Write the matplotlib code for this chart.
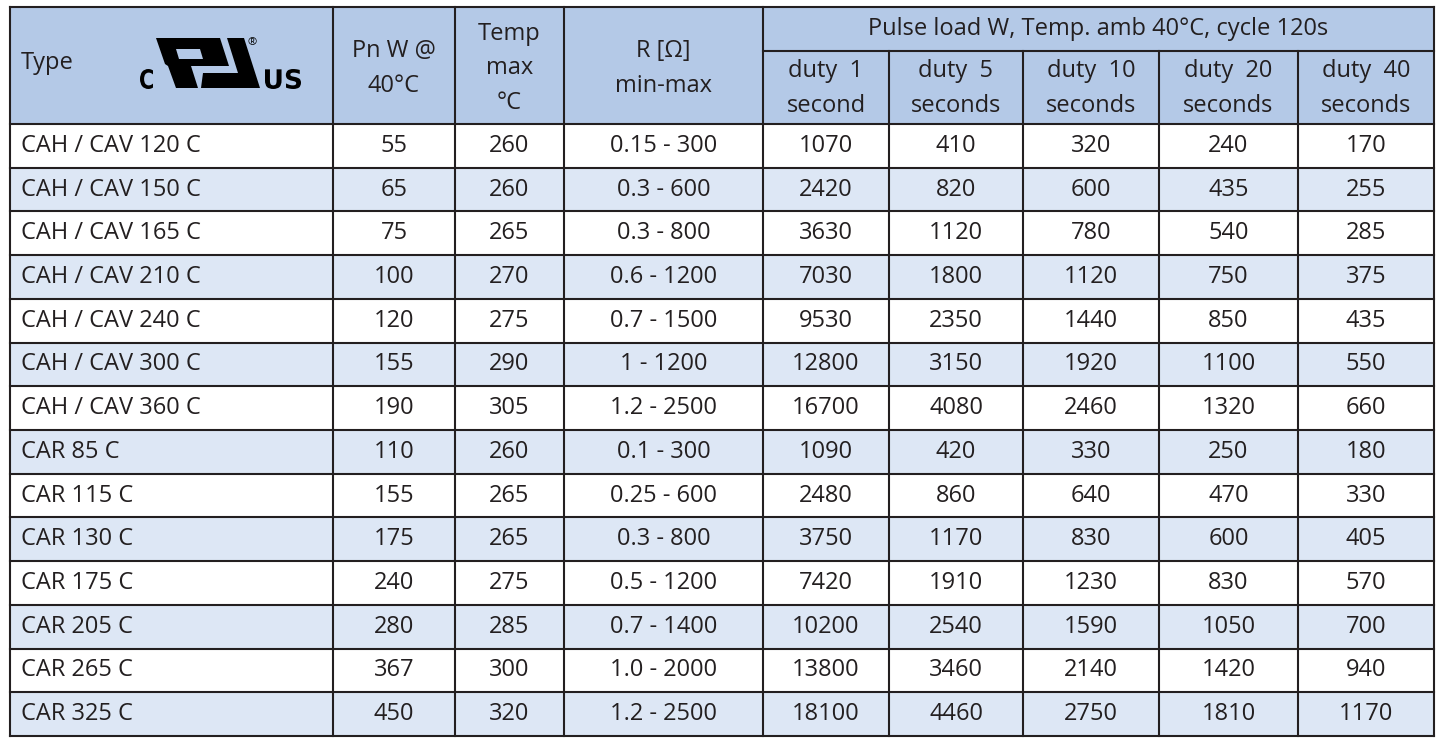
import matplotlib.pyplot as plt
from matplotlib.patches import Rectangle, Polygon, PathPatch
from matplotlib.textpath import TextPath
from matplotlib.font_manager import FontProperties
from matplotlib.transforms import Affine2D

plt.rcParams['font.family'] = ['Open Sans', 'DejaVu Sans']

# 表格数据
types = ['CAH / CAV 120 C', 'CAH / CAV 150 C', 'CAH / CAV 165 C', 'CAH / CAV 210 C',
         'CAH / CAV 240 C', 'CAH / CAV 300 C', 'CAH / CAV 360 C', 'CAR 85 C',
         'CAR 115 C', 'CAR 130 C', 'CAR 175 C', 'CAR 205 C', 'CAR 265 C', 'CAR 325 C']
pn_w = [55, 65, 75, 100, 120, 155, 190, 110, 155, 175, 240, 280, 367, 450]
temp_max = [260, 260, 265, 270, 275, 290, 305, 260, 265, 265, 275, 285, 300, 320]
r_range = ['0.15 - 300', '0.3 - 600', '0.3 - 800', '0.6 - 1200', '0.7 - 1500', '1 - 1200',
           '1.2 - 2500', '0.1 - 300', '0.25 - 600', '0.3 - 800', '0.5 - 1200', '0.7 - 1400',
           '1.0 - 2000', '1.2 - 2500']
duty_1 = [1070, 2420, 3630, 7030, 9530, 12800, 16700, 1090, 2480, 3750, 7420, 10200, 13800, 18100]
duty_5 = [410, 820, 1120, 1800, 2350, 3150, 4080, 420, 860, 1170, 1910, 2540, 3460, 4460]
duty_10 = [320, 600, 780, 1120, 1440, 1920, 2460, 330, 640, 830, 1230, 1590, 2140, 2750]
duty_20 = [240, 435, 540, 750, 850, 1100, 1320, 250, 470, 600, 830, 1050, 1420, 1810]
duty_40 = [170, 255, 285, 375, 435, 550, 660, 180, 330, 405, 570, 700, 940, 1170]

col_headers = ['Pn W @\n40°C', 'Temp\nmax\n°C', 'R [Ω]\nmin-max']
duty_headers = ['duty  1\nsecond', 'duty  5\nseconds', 'duty  10\nseconds',
                'duty  20\nseconds', 'duty  40\nseconds']
pulse_title = 'Pulse load W, Temp. amb 40°C, cycle 120s'

# 布局 (像素)
W, H = 1440, 738
col_x = [10, 333, 455, 564, 763, 889, 1023, 1159, 1298, 1434]
top, mid, head_bot, bottom = 7, 51, 124, 736
row_h = (bottom - head_bot) / len(types)

head_color = '#b4c9e7'
alt_color = '#dde7f5'
line_color = '#231f20'
text_color = '#231f20'
lw = 1.5
fs = 17
ls = 1.56

fig = plt.figure(figsize=(W / 100, H / 100), dpi=100)
ax = fig.add_axes([0, 0, 1, 1])
ax.set_xlim(0, W)
ax.set_ylim(H, 0)
ax.axis('off')

# 背景
ax.add_patch(Rectangle((col_x[0], top), col_x[-1] - col_x[0], head_bot - top,
                       facecolor=head_color, edgecolor='none'))
for i in range(len(types)):
    if i % 2 == 1:
        ax.add_patch(Rectangle((col_x[0], head_bot + i * row_h), col_x[-1] - col_x[0], row_h,
                               facecolor=alt_color, edgecolor='none'))

# 表头文字
ax.text(col_x[0] + 11, (top + head_bot) / 2 - 2.5, 'Type', ha='left', va='center',
        fontsize=fs, color=text_color)
for j, h in enumerate(col_headers):
    cx = (col_x[j + 1] + col_x[j + 2]) / 2
    ax.text(cx, (top + head_bot) / 2 + 3, h, ha='center', va='center', fontsize=fs,
            color=text_color, linespacing=ls)
ax.text((col_x[4] + col_x[-1]) / 2, (top + mid) / 2, pulse_title, ha='center', va='center',
        fontsize=fs, color=text_color)
for j, h in enumerate(duty_headers):
    cx = (col_x[j + 4] + col_x[j + 5]) / 2
    ax.text(cx, (mid + head_bot) / 2 + 1, h, ha='center', va='center', fontsize=fs,
            color=text_color, linespacing=ls)


# UL 标志: 窄粗体字母用 TextPath 压缩到指定框内
def squeezed_text(s, x0, x1, y_top, y_bot):
    tp = TextPath((0, 0), s, size=100, prop=FontProperties(family='DejaVu Sans', weight='bold'))
    ext = tp.get_extents()
    tr = (Affine2D().translate(-ext.x0, -ext.y0)
          .scale((x1 - x0) / ext.width, -(y_bot - y_top) / ext.height)
          .translate(x0, y_bot))
    ax.add_patch(PathPatch(tr.transform_path(tp), facecolor='black', edgecolor='none'))


ul_u = [(156, 38), (220, 38), (229, 66), (191, 66), (198, 88), (176, 88), (168, 66),
        (165, 64)]
ul_hole = [(176, 49), (200, 49), (203, 59), (179, 59)]
ul_l = [(227, 38), (244, 38), (260, 88), (201, 88), (203, 73), (238, 73)]
ax.add_patch(Polygon(ul_u, closed=True, facecolor='black', edgecolor='none'))
ax.add_patch(Polygon(ul_hole, closed=True, facecolor=head_color, edgecolor='none'))
ax.add_patch(Polygon(ul_l, closed=True, facecolor='black', edgecolor='none'))
squeezed_text('C', 140, 153, 69, 89)
squeezed_text('US', 265, 301, 69, 89)
ax.text(252, 43, '®', ha='center', va='center', fontsize=8, color='black')

# 数据
for i in range(len(types)):
    cy = head_bot + (i + 0.5) * row_h
    ax.text(col_x[0] + 11, cy, types[i], ha='left', va='center', fontsize=fs, color=text_color)
    vals = [pn_w[i], temp_max[i], r_range[i], duty_1[i], duty_5[i], duty_10[i],
            duty_20[i], duty_40[i]]
    for j, v in enumerate(vals):
        cx = (col_x[j + 1] + col_x[j + 2]) / 2
        ax.text(cx, cy, str(v), ha='center', va='center', fontsize=fs, color=text_color)

# 网格线
for i in range(len(types) + 1):
    y = head_bot + i * row_h
    ax.plot([col_x[0], col_x[-1]], [y, y], color=line_color, lw=lw, solid_capstyle='projecting')
ax.plot([col_x[0], col_x[-1]], [top, top], color=line_color, lw=lw, solid_capstyle='projecting')
ax.plot([col_x[4], col_x[-1]], [mid, mid], color=line_color, lw=lw)
for j, x in enumerate(col_x):
    y0 = mid if j in (5, 6, 7, 8) else top
    ax.plot([x, x], [y0, bottom], color=line_color, lw=lw, solid_capstyle='projecting')

plt.savefig('out.png', dpi=100)
plt.close()
